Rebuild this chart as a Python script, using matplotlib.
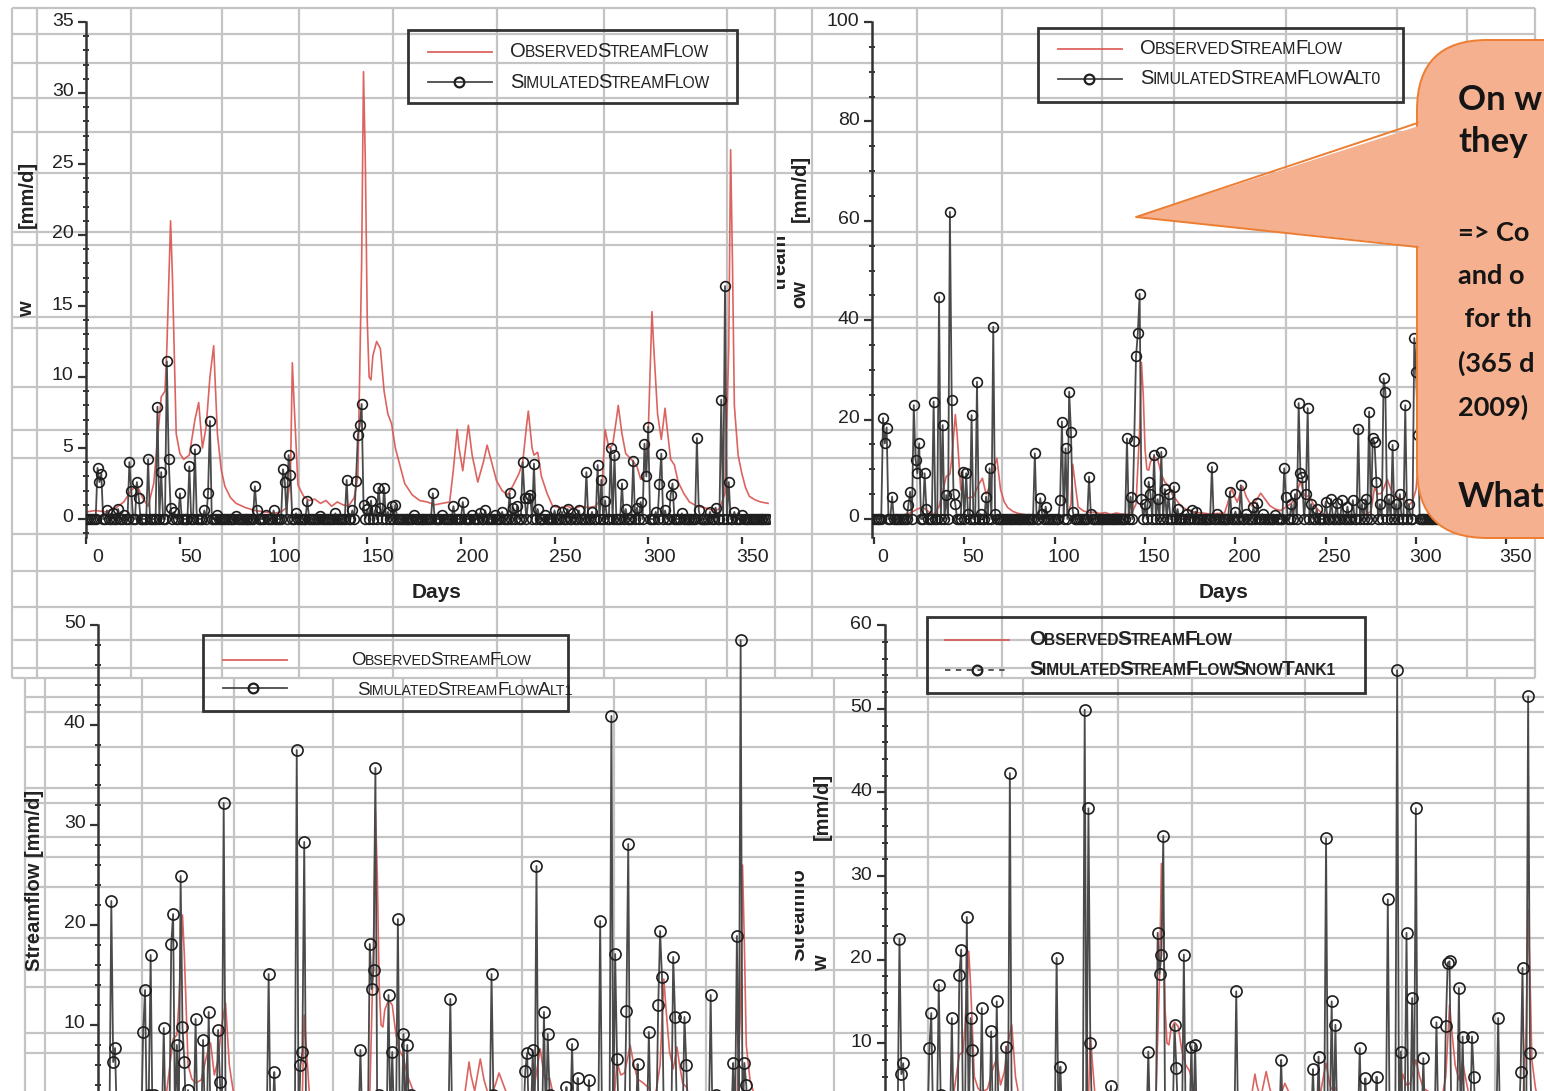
import numpy as np
import matplotlib
matplotlib.use("Agg")
import matplotlib.pyplot as plt
from matplotlib.offsetbox import TextArea, HPacker, AnchoredOffsetbox
from matplotlib.patches import FancyBboxPatch, Polygon, Rectangle
from matplotlib.lines import Line2D
from matplotlib.ticker import MultipleLocator, FixedLocator
from matplotlib.transforms import ScaledTranslation, Bbox, TransformedBbox

W, H, DPI = 1544, 1091, 100

# ------------------------------------------------------------------ data
days = np.arange(365)

# observed daily streamflow [mm/d], key days of the hydrograph
obs_days = [0, 5, 10, 15, 20, 24, 27, 30, 33, 36, 40, 42, 43, 45, 46, 48, 50, 52,
            55, 58, 60, 62, 64, 66, 68, 70, 72, 74, 77, 80, 85, 90, 95, 100, 104,
            107, 109, 110, 111, 113, 116, 119, 122, 125, 128, 131, 134, 137, 140,
            143, 145, 147, 148, 149, 150, 151, 152, 153, 155, 157, 159, 161, 163,
            165, 167, 170, 174, 178, 182, 186, 190, 194, 196, 198, 199, 201, 203,
            204, 206, 209, 212, 214, 216, 219, 222, 225, 228, 231, 233, 235, 236,
            238, 239, 241, 243, 246, 249, 253, 257, 260, 264, 268, 272, 275, 277,
            279, 281, 283, 284, 286, 288, 291, 294, 296, 298, 300, 302, 303, 305,
            307, 309, 310, 312, 314, 316, 319, 322, 326, 330, 335, 338, 341, 343,
            344, 345, 346, 348, 350, 352, 354, 357, 360, 364]
obs_vals = [0.5, 0.6, 0.5, 0.7, 1.2, 2.0, 2.4, 1.5, 0.9, 2.5, 8.6, 9.0, 12.0, 21.0,
            17.0, 6.0, 4.6, 4.2, 4.5, 7.0, 8.2, 5.0, 6.5, 10.0, 12.2, 6.0, 3.5, 2.3,
            1.5, 1.1, 0.8, 0.6, 0.5, 0.4, 0.5, 0.8, 3.0, 11.0, 8.0, 2.4, 1.6, 1.3,
            1.4, 1.1, 1.3, 0.9, 1.2, 1.0, 0.9, 1.5, 3.0, 18.0, 31.5, 25.0, 14.0, 10.0,
            9.8, 11.5, 12.5, 12.0, 9.0, 7.4, 6.7, 5.0, 4.0, 2.5, 1.7, 1.3, 1.2, 1.0,
            1.1, 1.2, 3.5, 6.3, 5.0, 3.4, 5.5, 6.6, 4.5, 2.6, 4.0, 5.2, 4.2, 2.7,
            2.0, 1.7, 2.4, 3.2, 4.0, 6.5, 7.6, 5.0, 4.5, 4.7, 3.0, 1.8, 0.9, 0.8,
            0.9, 0.7, 0.9, 0.8, 0.9, 1.5, 6.3, 5.0, 5.2, 7.0, 8.0, 6.0, 4.6, 4.2,
            3.7, 2.8, 3.5, 6.0, 14.6, 12.0, 7.4, 5.6, 7.8, 6.5, 4.2, 3.8, 2.6, 1.8,
            1.2, 0.9, 0.8, 0.6, 0.7, 1.8, 12.0, 26.0, 18.0, 8.0, 4.5, 3.2, 2.2, 1.6,
            1.35, 1.2, 1.1]

# simulated runs: days with non-zero simulated flow and their values [mm/d]
sim_days = [6, 7, 8, 11, 14, 17, 20, 23, 24, 27, 28, 33, 38, 40, 43, 44, 45, 47,
            50, 55, 58, 63, 65, 66, 70, 80, 90, 91, 96, 100, 105, 106, 108, 109,
            112, 118, 125, 133, 139, 142, 144, 145, 146, 147, 148, 150, 152, 154,
            156, 157, 159, 161, 163, 165, 175, 185, 190, 196, 201, 206, 210, 213,
            218, 222, 226, 228, 230, 233, 234, 236, 237, 239, 241, 245, 250, 254,
            257, 260, 263, 267, 270, 273, 275, 277, 280, 282, 286, 288, 292, 294,
            296, 298, 299, 300, 304, 306, 307, 309, 312, 313, 318, 326, 327, 333,
            336, 339, 341, 343, 346, 350]
sim_vals = [3.6, 2.6, 3.2, 0.6, 0.4, 0.7, 0.3, 4.0, 2.0, 2.6, 1.5, 4.2, 7.9, 3.3,
            11.1, 4.2, 0.8, 0.5, 1.8, 3.7, 4.9, 0.6, 1.8, 6.9, 0.3, 0.2, 2.3, 0.6,
            0.3, 0.6, 3.5, 2.6, 4.5, 3.1, 0.4, 1.3, 0.2, 0.4, 2.75, 0.6, 2.7, 5.9,
            6.6, 8.1, 1.0, 0.7, 1.3, 0.6, 2.2, 0.8, 2.2, 0.5, 0.9, 1.0, 0.3, 1.8,
            0.3, 0.9, 1.2, 0.3, 0.4, 0.6, 0.3, 0.5, 1.8, 0.8, 0.9, 4.0, 1.5, 1.5,
            1.7, 3.9, 0.7, 0.3, 0.6, 0.5, 0.7, 0.4, 0.6, 3.3, 0.5, 3.8, 2.75, 1.3,
            5.0, 4.5, 2.5, 0.7, 4.1, 0.8, 1.2, 5.3, 3.0, 6.5, 0.5, 2.5, 4.6, 0.6,
            1.7, 2.5, 0.4, 5.7, 0.6, 0.5, 0.8, 8.4, 16.4, 2.6, 0.5, 0.3]

alt0_days = [5, 6, 7, 10, 19, 20, 22, 23, 24, 25, 28, 29, 33, 36, 38, 40, 42, 43,
             44, 45, 49, 51, 52, 54, 57, 59, 62, 64, 66, 67, 89, 92, 93, 95, 103,
             104, 106, 108, 109, 110, 119, 120, 140, 142, 144, 145, 146, 147, 148,
             150, 152, 153, 155, 157, 159, 161, 163, 166, 168, 173, 176, 178, 187,
             190, 197, 200, 203, 206, 210, 212, 215, 222, 227, 228, 231, 233, 235,
             236, 237, 239, 240, 242, 245, 250, 253, 256, 259, 262, 265, 268, 270,
             272, 274, 276, 277, 278, 280, 282, 283, 285, 287, 289, 291, 294, 296,
             299, 300, 301]
alt0_vals = [20.3, 15.2, 18.4, 4.5, 2.8, 5.5, 22.9, 11.9, 9.2, 15.2, 9.2, 2.0,
             23.6, 44.7, 18.9, 4.8, 61.8, 23.9, 5.0, 3.0, 9.5, 9.2, 1.0, 20.9, 27.6,
             1.0, 4.5, 10.2, 38.7, 1.0, 13.2, 4.2, 1.0, 2.5, 3.8, 19.6, 14.2, 25.6,
             17.6, 1.5, 8.5, 1.0, 16.2, 4.5, 15.6, 32.7, 37.4, 45.3, 4.0, 3.0, 7.5,
             5.0, 12.9, 4.0, 13.5, 6.0, 5.0, 6.5, 2.0, 1.0, 1.8, 1.5, 10.5, 1.0, 5.5,
             1.5, 6.8, 1.0, 2.5, 3.2, 1.0, 0.8, 10.2, 4.5, 3.0, 5.0, 23.3, 9.2, 8.4,
             5.0, 22.3, 3.0, 2.0, 3.5, 4.0, 3.2, 3.8, 2.5, 3.8, 18.2, 3.0, 4.0, 21.6,
             16.2, 15.4, 7.5, 3.0, 28.3, 25.6, 4.0, 14.9, 3.0, 5.0, 22.9, 3.0, 36.4,
             29.6, 17.0]

alt1_days = [7, 8, 9, 12, 18, 24, 25, 27, 28, 30, 35, 39, 40, 42, 44, 45, 46, 48,
             52, 56, 59, 64, 65, 67, 68, 91, 94, 106, 108, 109, 110, 140, 145, 146,
             147, 148, 150, 155, 157, 160, 163, 165, 167, 188, 210, 211, 228, 229,
             232, 234, 238, 240, 241, 250, 253, 256, 262, 268, 274, 276, 277, 282,
             283, 288, 294, 299, 300, 301, 307, 308, 313, 314, 327, 330, 339, 341,
             343, 345, 346]
alt1_vals = [22.4, 6.3, 7.7, 1.0, 1.0, 9.3, 13.5, 3.0, 17.0, 3.0, 9.7, 18.1, 21.1,
             8.0, 24.9, 9.8, 6.3, 3.5, 10.6, 8.5, 11.3, 9.5, 4.3, 32.2, 2.0, 15.1,
             5.3, 37.5, 6.0, 7.3, 28.3, 7.5, 18.1, 13.6, 15.5, 35.7, 3.0, 13.0, 7.3,
             20.6, 9.1, 8.0, 3.0, 12.6, 15.1, 3.0, 5.4, 7.2, 7.5, 25.9, 11.3, 9.1,
             3.0, 3.8, 8.1, 4.7, 4.5, 20.4, 40.9, 17.1, 6.6, 11.4, 28.1, 6.1, 9.3,
             12.0, 19.4, 14.8, 16.8, 10.8, 10.8, 6.0, 13.0, 3.0, 6.2, 18.9, 48.5,
             6.2, 4.0]

snow_days = [8, 9, 10, 24, 25, 29, 30, 36, 40, 41, 44, 46, 47, 52, 57, 60, 65, 67,
             92, 94, 107, 109, 110, 121, 141, 146, 147, 148, 149, 155, 156, 160,
             164, 166, 188, 212, 229, 232, 236, 239, 241, 254, 257, 263, 269, 274,
             276, 279, 282, 284, 288, 295, 300, 301, 302, 307, 309, 314, 315, 328,
             331, 340, 341, 344, 345]
snow_vals = [22.5, 6.3, 7.6, 9.4, 13.6, 17.0, 3.8, 13.0, 18.2, 21.2, 25.1, 13.0,
             9.2, 14.2, 11.4, 15.0, 9.6, 42.3, 20.2, 7.2, 49.9, 38.1, 10.0, 4.9,
             9.0, 23.2, 18.3, 20.6, 34.8, 12.2, 7.0, 20.6, 9.6, 9.8, 16.2, 8.0, 6.9,
             8.4, 34.5, 15.0, 12.2, 9.4, 5.8, 6.0, 27.2, 54.6, 9.0, 23.2, 15.4, 38.1,
             8.2, 12.5, 12.0, 19.6, 19.8, 16.6, 10.8, 10.8, 6.0, 13.0, 3.0, 6.5,
             19.0, 51.5, 8.8]

obs_label = "ObservedStreamFlow"
run_labels = ["SimulatedStreamFlow", "SimulatedStreamFlowAlt0",
              "SimulatedStreamFlowAlt1", "SimulatedStreamFlowSnowTank1"]
x_ticks = [0, 50, 100, 150, 200, 250, 300, 350]

callout_lines = ["On w", "they", "=> Co", "and o", " for th", "(365 d", "2009)", "What"]


def daily(ev_days, ev_vals):
    s = np.zeros(len(days))
    s[np.asarray(ev_days)] = ev_vals
    return s


runs = [daily(sim_days, sim_vals), daily(alt0_days, alt0_vals),
        daily(alt1_days, alt1_vals), daily(snow_days, snow_vals)]

# ------------------------------------------------------------------ style
RED = "#d9534f"
GRID = "#c4c4c4"
INK = "#222222"
TICKFONT = "Liberation Sans"
plt.rcParams["font.family"] = ["Liberation Sans", "DejaVu Sans"]

fig = plt.figure(figsize=(W / DPI, H / DPI), dpi=DPI)
fig.patch.set_facecolor("white")

# spreadsheet background (pixel coordinates)
bg = fig.add_axes([0, 0, 1, 1], zorder=0)
bg.set_xlim(0, W)
bg.set_ylim(H, 0)
bg.axis("off")

top_v = [12, 37, 131, 222, 299, 393, 497, 604, 727, 775, 812, 917, 1002, 1102,
         1174, 1286, 1397, 1467, 1535]
top_h = [8, 34, 63, 98, 132, 173, 232, 245, 317, 328, 387, 430, 458, 534, 571,
         607, 640, 668, 678]
bot_v = [25, 45, 142, 234, 333, 403, 522, 614, 706, 834, 928, 1023, 1118, 1192,
         1305, 1402, 1495]
bot_h = [697, 712, 747, 788, 803, 837, 857, 887, 938, 970, 987, 1033, 1053]
bg.vlines(top_v, 8, 678, color=GRID, lw=1.6)
bg.hlines(top_h, 12, 1535, color=GRID, lw=1.6)
bg.vlines(bot_v, 678, H, color=GRID, lw=1.6)
bg.hlines(bot_h, 25, W, color=GRID, lw=1.6)


def add_panel(left, right, top, bottom, x0, xs, y0, ys):
    ax = fig.add_axes([left / W, 1 - bottom / H, (right - left) / W, (bottom - top) / H],
                      zorder=1)
    ax.set_facecolor("none")
    ax.set_xlim((left - x0) / xs, (right - x0) / xs)
    ax.set_ylim((y0 - bottom) / ys, (y0 - top) / ys)
    for s in ("top", "right", "bottom"):
        ax.spines[s].set_visible(False)
    ax.spines["left"].set_color("#333333")
    ax.spines["left"].set_linewidth(1.8)
    return ax


def draw_series(ax, run, ms):
    ax.plot(obs_days, obs_vals, color=RED, lw=1.2, alpha=0.9, zorder=2)
    ax.plot(days, run, color="#4a4a4a", lw=1.3, marker="o", ms=ms, mfc="none",
            mec="#1e1e1e", mew=1.2, zorder=3)


def style_y(ax, major, minor, lab_size=14):
    ax.yaxis.set_major_locator(MultipleLocator(major))
    ax.yaxis.set_minor_locator(MultipleLocator(minor))
    ax.tick_params(axis="y", which="major", direction="out", length=6, width=1.6,
                   colors="#333333", pad=3, labelsize=lab_size, labelcolor=INK)
    ax.tick_params(axis="y", which="minor", direction="inout", length=5, width=1.4,
                   colors="#333333")
    lo, hi = ax.get_ylim()
    ax.set_yticks([t for t in ax.get_yticks() if lo <= t <= hi + 1e-6])
    for lab in ax.get_yticklabels():
        lab.set_transform(lab.get_transform() + ScaledTranslation(0, 3 / DPI, fig.dpi_scale_trans))


def style_x(ax, shift_px):
    ax.xaxis.set_major_locator(FixedLocator(x_ticks))
    ax.tick_params(axis="x", which="major", direction="out", length=5, width=1.6,
                   colors="#333333", pad=4, labelsize=14, labelcolor=INK)
    for lab in ax.get_xticklabels():
        lab.set_transform(lab.get_transform() + ScaledTranslation(shift_px / DPI, 0, fig.dpi_scale_trans))


# top left: reference run
ax1 = add_panel(86, 770, 22, 537, 86.3, 1.873, 519, 14.2)
draw_series(ax1, runs[0], 7)
style_y(ax1, 5, 1)
style_x(ax1, 11)
ax1.set_xlabel("Days", fontsize=15, fontweight="bold", color=INK)
ax1.xaxis.set_label_coords((437 - 86) / (770 - 86), (537 - 592) / (537 - 22))
ax1.xaxis.label.set_va("center")

# top right: Alt0
ax2 = add_panel(872, 1544, 22, 537, 874, 1.807, 519, 4.97)
draw_series(ax2, runs[1], 7)
style_y(ax2, 20, 5)
style_x(ax2, 9)
ax2.set_xlabel("Days", fontsize=15, fontweight="bold", color=INK)
ax2.xaxis.set_label_coords((1224 - 872) / (1544 - 872), (537 - 592) / (537 - 22))
ax2.xaxis.label.set_va("center")

# bottom left: Alt1
ax3 = add_panel(98, 780, 625, H, 98.2, 1.873, 1125, 10.0)
draw_series(ax3, runs[2], 8)
style_y(ax3, 10, 2)
ax3.set_xticks([])
ax3.set_ylabel("Streamflow [mm/d]", fontsize=14.5, fontweight="bold", color=INK)
ax3.yaxis.set_label_coords((35 - 98) / (780 - 98), (H - 880) / (H - 625))
ax3.yaxis.label.set_va("center")

# bottom right: SnowTank1
ax4 = add_panel(884.5, 1544, 625, H, 884.5, 1.871, 1126.8, 8.36)
draw_series(ax4, runs[3], 8)
style_y(ax4, 10, 2)
ax4.set_xticks([])

# axis-label fragments of the pasted screenshots
frag = dict(fontsize=14.5, fontweight="bold", color=INK, rotation=90,
            ha="center", va="center")
fig.text(27 / W, 1 - 194 / H, "[mm/d]", **frag)
fig.text(27 / W, 1 - 309 / H, "w", **frag)
fig.text(800 / W, 1 - 188 / H, "[mm/d]", **frag)
fig.text(800 / W, 1 - 294 / H, "ow", **frag)
fig.text(822 / W, 1 - 806 / H, "[mm/d]", **frag)
fig.text(822 / W, 1 - 963 / H, "w", **frag)


def clipped_frag(x, y, text, x0, x1, y0, y1):
    t = fig.text(x / W, 1 - y / H, text, **frag)
    t.set_clip_box(TransformedBbox(Bbox.from_extents(x0 / W, 1 - y1 / H, x1 / W, 1 - y0 / H),
                                   fig.transFigure))
    t.set_clip_on(True)


clipped_frag(780, 262, "Streamfl", 777, 792, 236, 290)
clipped_frag(799, 915, "Streamflo", 795, 808, 860, 968)

# ------------------------------------------------------------------ overlay (legends, callout)
ov = fig.add_axes([0, 0, 1, 1], zorder=5)
ov.set_xlim(0, W)
ov.set_ylim(H, 0)
ov.axis("off")
ov.set_facecolor("none")


def smallcaps(text, x, y_base, big, small, weight="normal", color=INK):
    pieces = []
    for ch in text:
        size = big if (ch.isupper()) else small
        if pieces and pieces[-1][1] == size:
            pieces[-1][0] += ch.upper()
        else:
            pieces.append([ch.upper(), size])
    kids = [TextArea(p, textprops=dict(fontsize=s, color=color, fontweight=weight,
                                       family=TICKFONT)) for p, s in pieces]
    box = HPacker(children=kids, align="baseline", pad=0, sep=-0.8)
    descent = 0.21 * big * DPI / 72
    anc = AnchoredOffsetbox(loc="lower left", child=box, pad=0, borderpad=0,
                            frameon=False, bbox_to_anchor=(x / W, 1 - (y_base + descent) / H),
                            bbox_transform=fig.transFigure)
    anc.set_zorder(6)
    fig.add_artist(anc)


def legend_block(frame, red_y, run_y, hx0, hx1, mx, text_x, bases, big, small, label,
                 weight="normal", run_ls="-"):
    x0, y0, x1, y1 = frame
    ov.add_patch(Rectangle((x0, y0), x1 - x0, y1 - y0, fill=False, ec="#333333", lw=2.0))
    ov.add_line(Line2D([hx0, hx1], [red_y, red_y], color=RED, lw=1.3, alpha=0.9))
    ov.add_line(Line2D([hx0, hx1], [run_y, run_y], color="#4a4a4a", lw=1.3, ls=run_ls))
    ov.add_line(Line2D([mx], [run_y], marker="o", ms=7, mfc="none", mec="#1e1e1e", mew=1.6))
    smallcaps(obs_label, text_x[0], bases[0], big, small, weight)
    smallcaps(label, text_x[1], bases[1], big, small, weight)


legend_block((408, 30, 737, 103), 52, 82, 428, 492, 459, (510, 510), (57, 88), 14.5, 11.2,
             run_labels[0])
legend_block((1038, 28, 1403, 102), 49, 79, 1058, 1122, 1089, (1140, 1140), (54, 84), 14.5,
             11.4, run_labels[1])
legend_block((203, 635, 568, 711), 660, 688, 223, 287, 253, (351, 357), (665, 695), 13.5,
             10.2, run_labels[2])
legend_block((927, 617, 1365, 693), 640, 670, 945, 1009, 977, (1029, 1029), (645, 675), 15,
             11.2, run_labels[3], weight="bold", run_ls=(0, (3, 3)))

# speech-bubble callout
FILL = "#f4b08f"
EDGE = "#ed7d31"
ov.add_patch(FancyBboxPatch((1417, 40), 420, 498, boxstyle="round,pad=0,rounding_size=70",
                            fc=FILL, ec=EDGE, lw=1.4, zorder=7))
ov.add_patch(Polygon([(1428, 123), (1136, 217), (1428, 247)], closed=True, fc=FILL,
                     ec="none", zorder=8))
ov.add_line(Line2D([1417.5, 1136, 1417.5], [123, 217, 247], color=EDGE, lw=1.4, zorder=9))

big_lines = {0: 110, 1: 152, 7: 507}
small_lines = {2: 241, 3: 284, 4: 327, 5: 372, 6: 416}
for i, yb in big_lines.items():
    ov.text(1458, yb, callout_lines[i], fontsize=25, fontweight="bold", color="#151515",
            family=["Lato", "DejaVu Sans"], va="baseline", ha="left", zorder=10)
for i, yb in small_lines.items():
    ov.text(1458, yb, callout_lines[i], fontsize=19.5, fontweight="bold", color="#151515",
            family=["Lato", "DejaVu Sans"], va="baseline", ha="left", zorder=10)

fig.savefig("out.png", dpi=DPI)
